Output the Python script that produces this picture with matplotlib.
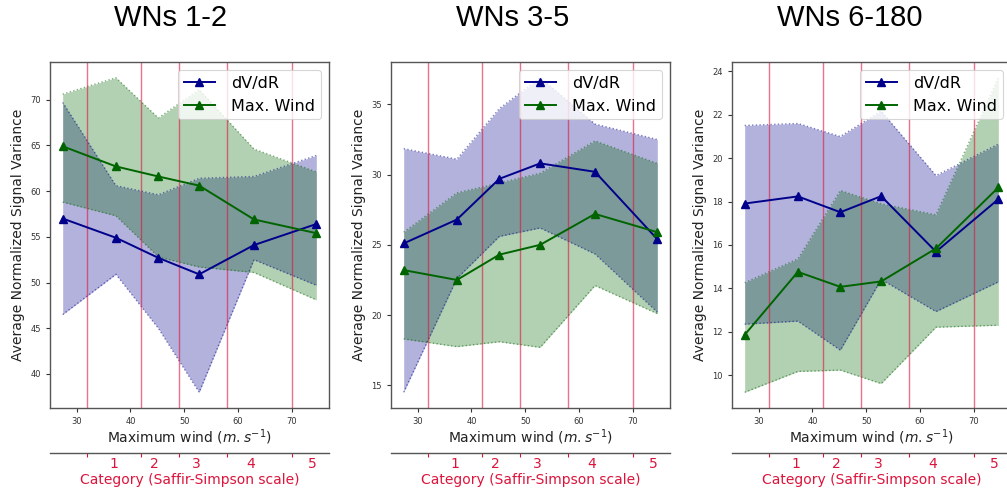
import matplotlib
matplotlib.use("Agg")
import matplotlib.pyplot as plt
from matplotlib.ticker import FixedLocator, NullFormatter, FixedFormatter

# ---------------- data ----------------
titles = ["WNs 1-2", "WNs 3-5", "WNs 6-180"]
wind_x = [27.4, 37.3, 45.2, 52.8, 63.0, 74.6]

dvdr_mean = [
    [57.0, 54.9, 52.7, 50.9, 54.1, 56.4],
    [25.1, 26.8, 29.7, 30.8, 30.2, 25.4],
    [17.91, 18.24, 17.51, 18.25, 15.69, 18.11],
]
dvdr_hi = [
    [69.7, 60.6, 59.6, 61.4, 61.6, 63.9],
    [31.85, 31.1, 34.7, 36.9, 33.6, 32.5],
    [21.51, 21.6, 21.0, 22.17, 19.2, 20.65],
]
dvdr_lo = [
    [46.5, 50.9, 45.0, 38.0, 52.5, 49.7],
    [14.5, 22.6, 25.6, 26.2, 24.35, 20.2],
    [12.35, 12.49, 11.15, 14.41, 12.93, 14.3],
]
wind_mean = [
    [64.9, 62.7, 61.6, 60.6, 56.9, 55.4],
    [23.2, 22.5, 24.3, 25.0, 27.2, 25.9],
    [11.86, 14.76, 14.07, 14.32, 15.84, 18.65],
]
wind_hi = [
    [70.6, 72.4, 68.0, 71.1, 64.6, 62.1],
    [25.9, 28.7, 29.4, 30.1, 32.4, 30.8],
    [14.26, 15.36, 18.51, 17.9, 17.39, 23.71],
]
wind_lo = [
    [58.8, 57.3, 52.8, 51.7, 51.1, 48.1],
    [18.3, 17.75, 18.1, 17.7, 22.1, 20.1],
    [9.21, 10.17, 10.23, 9.61, 12.21, 12.3],
]

cat_bounds = [32, 42, 49, 58, 70]
cat_label_pos = [37.0, 44.4, 52.2, 62.4, 73.9]
cat_labels = ["1", "2", "3", "4", "5"]

# ---------------- figure ----------------
W, H = 1007, 493
fig = plt.figure(figsize=(W / 100, H / 100), dpi=100)

panel_left = [50, 391, 732]
panel_w = 279
ax_top, ax_bot = 62, 408
title_cx = [171, 513, 850]

blue = "#00008b"
green = "darkgreen"
red = "crimson"
spine_c = "#555555"

for i in range(3):
    ax = fig.add_axes([panel_left[i] / W, (H - ax_bot) / H,
                       panel_w / W, (ax_bot - ax_top) / H])
    ax.fill_between(wind_x, dvdr_lo[i], dvdr_hi[i], color=blue, alpha=0.3, lw=0)
    ax.fill_between(wind_x, wind_lo[i], wind_hi[i], color=green, alpha=0.3, lw=0)
    for arr, c in [(dvdr_lo[i], blue), (dvdr_hi[i], blue),
                   (wind_lo[i], green), (wind_hi[i], green)]:
        ax.plot(wind_x, arr, color=c, ls=":", lw=1, alpha=0.5)
    for b in cat_bounds:
        ax.axvline(b, color=red, alpha=0.6, lw=1)
    ax.plot(wind_x, dvdr_mean[i], color=blue, marker="^", ms=5.5, lw=1.4, label="dV/dR")
    ax.plot(wind_x, wind_mean[i], color=green, marker="^", ms=5.5, lw=1.4, label="Max. Wind")

    ax.set_xlabel(r"Maximum wind ($m.s^{-1}$)", fontsize=10, color="#222222", labelpad=1)
    ax.set_ylabel("Average Normalized Signal Variance", fontsize=10, color="#222222")
    ax.tick_params(labelsize=6, colors="#333333", length=3, width=0.8)
    for s in ax.spines.values():
        s.set_color(spine_c)
        s.set_linewidth(1.0)
    leg = ax.legend(loc="upper right", fontsize=11.5, handlelength=2.0,
                    handletextpad=1.0, framealpha=0.8, borderpad=0.35,
                    labelspacing=0.5)
    leg.get_frame().set_linewidth(0.8)

    # secondary category axis
    xl = ax.get_xlim()
    ax2 = ax.twiny()
    ax2.set_xlim(xl)
    ax2.xaxis.set_ticks_position("bottom")
    ax2.xaxis.set_label_position("bottom")
    ax2.spines["bottom"].set_position(("outward", 32.4))
    for k in ["top", "left", "right"]:
        ax2.spines[k].set_visible(False)
    ax2.spines["bottom"].set_color(spine_c)
    ax2.spines["bottom"].set_linewidth(1.0)
    ax2.xaxis.set_major_locator(FixedLocator(cat_bounds))
    ax2.xaxis.set_major_formatter(NullFormatter())
    ax2.xaxis.set_minor_locator(FixedLocator(cat_label_pos))
    ax2.xaxis.set_minor_formatter(FixedFormatter(cat_labels))
    ax2.tick_params(axis="x", which="major", colors=red, length=3, width=0.8)
    ax2.tick_params(axis="x", which="minor", length=0, labelsize=10, labelcolor=red, pad=3)
    ax2.set_xlabel("Category (Saffir-Simpson scale)", color=red, fontsize=10, labelpad=1)

    fig.text(title_cx[i] / W, 1 - 18.5 / H, titles[i], ha="center", va="center",
             fontsize=21, family="Liberation Sans")

fig.savefig("out.png", dpi=100)
